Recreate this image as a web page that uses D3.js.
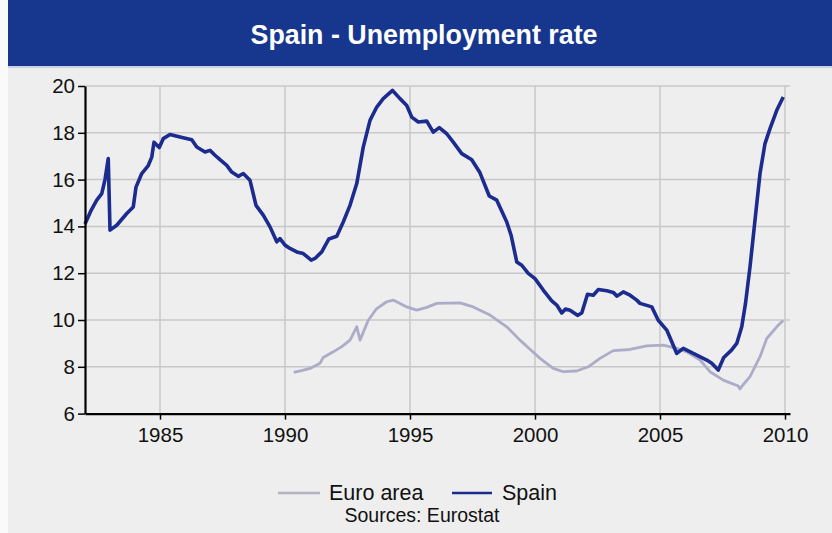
<!DOCTYPE html>
<html>
<head>
<meta charset="utf-8">
<script src="https://cdn.jsdelivr.net/npm/d3@7"></script>
<style>
  html, body { margin: 0; padding: 0; background: #eeeeee; }
  svg { display: block; font-family: "Liberation Sans", Arial, sans-serif; }
</style>
</head>
<body>
<svg id="chart" width="832" height="533"></svg>
<script>
// ---- Data ----
const title = "Spain - Unemployment rate";
const seriesNames = ["Euro area", "Spain"];
const sourceText = "Sources: Eurostat";

const spainDates = [1982.00,1982.25,1982.47,1982.67,1982.80,1982.93,1983.00,1983.27,1983.67,1983.93,
  1984.04,1984.27,1984.53,1984.67,1984.76,1984.97,1985.13,1985.40,1985.80,1986.27,1986.47,1986.80,
  1987.00,1987.20,1987.40,1987.67,1987.87,1988.13,1988.33,1988.60,1988.84,1989.13,1989.40,1989.67,
  1989.80,1990.00,1990.20,1990.47,1990.73,1991.05,1991.20,1991.47,1991.75,1992.07,1992.33,1992.60,
  1992.87,1993.13,1993.40,1993.67,1993.93,1994.30,1994.60,1994.87,1995.07,1995.33,1995.67,1995.93,
  1996.17,1996.47,1996.73,1997.07,1997.47,1997.80,1998.17,1998.47,1998.87,1999.05,1999.27,1999.47,
  1999.73,2000.00,2000.33,2000.67,2000.87,2001.07,2001.22,2001.40,2001.70,2001.87,2002.10,2002.33,
  2002.53,2002.87,2003.13,2003.28,2003.53,2003.80,2004.07,2004.20,2004.67,2004.93,2005.27,2005.67,
  2005.93,2006.33,2006.87,2007.07,2007.33,2007.55,2007.85,2008.07,2008.27,2008.42,2008.60,2008.80,
  2009.00,2009.20,2009.40,2009.67,2009.93];
const spainValues = [14.10,14.70,15.12,15.40,16.00,16.90,13.84,14.05,14.55,14.83,
  15.68,16.26,16.60,16.96,17.60,17.37,17.75,17.93,17.82,17.70,17.39,17.18,
  17.25,17.04,16.85,16.61,16.32,16.14,16.26,15.97,14.90,14.48,13.98,13.34,
  13.48,13.20,13.06,12.91,12.84,12.56,12.63,12.91,13.46,13.58,14.19,14.90,
  15.83,17.39,18.53,19.10,19.46,19.81,19.46,19.17,18.67,18.46,18.50,18.03,
  18.22,17.96,17.60,17.11,16.85,16.29,15.30,15.12,14.19,13.60,12.48,12.34,
  11.99,11.77,11.28,10.82,10.64,10.30,10.47,10.42,10.20,10.30,11.10,11.06,
  11.30,11.25,11.18,11.02,11.20,11.06,10.85,10.71,10.56,9.99,9.57,8.57,
  8.79,8.57,8.29,8.15,7.86,8.40,8.70,9.00,9.71,10.71,12.27,14.26,
  16.26,17.54,18.18,18.96,19.53];

const euroDates = [1990.35,1990.70,1991.00,1991.40,1991.53,1991.93,1992.27,1992.60,1992.87,1993.00,
  1993.33,1993.67,1994.07,1994.33,1994.87,1995.27,1995.67,1996.07,1997.00,1997.53,1998.20,1998.87,
  1999.40,1999.80,2000.20,2000.73,2001.13,2001.67,2002.13,2002.60,2003.13,2003.80,2004.47,2005.13,
  2005.67,2006.07,2006.60,2007.00,2007.53,2008.13,2008.20,2008.30,2008.60,2009.00,2009.27,2009.67,2009.93];
const euroValues = [7.76,7.85,7.93,8.15,8.40,8.64,8.86,9.14,9.71,9.14,
  9.99,10.49,10.78,10.85,10.56,10.42,10.54,10.71,10.73,10.56,10.21,9.71,
  9.14,8.75,8.36,7.93,7.79,7.82,8.00,8.36,8.69,8.74,8.89,8.93,
  8.79,8.64,8.29,7.79,7.43,7.18,7.05,7.20,7.58,8.43,9.21,9.71,9.98];

const yTicks = [6, 8, 10, 12, 14, 16, 18, 20];
const xTicks = [1985, 1990, 1995, 2000, 2005, 2010];

// ---- Drawing ----
const svg = d3.select("#chart");
const W = 832, H = 533;
const mLeft = 85, mRight = 790, mTop = 86, mBottom = 413.6;

svg.append("rect").attr("width", W).attr("height", H).attr("fill", "#eeeeee");
svg.append("rect").attr("x", 0).attr("y", 0).attr("width", 8).attr("height", H).attr("fill", "#fafafa");

// title bar
svg.append("rect").attr("x", 8).attr("y", 0).attr("width", W - 8).attr("height", 66).attr("fill", "#17378f");
svg.append("rect").attr("x", 8).attr("y", 66).attr("width", W - 8).attr("height", 2).attr("fill", "#c9d0e4");
svg.append("text").attr("x", 424).attr("y", 44).attr("text-anchor", "middle")
  .attr("fill", "#ffffff").attr("font-size", 26.8).attr("font-weight", "bold").text(title);

const x = d3.scaleLinear().domain([1982, 2010.2]).range([mLeft, mRight]);
const y = d3.scaleLinear().domain([6, 20]).range([mBottom, mTop]);

// gridlines
const grid = svg.append("g");
grid.selectAll("line.h").data(yTicks.filter(d => d > 6)).join("line")
  .attr("x1", mLeft).attr("x2", mRight).attr("y1", d => y(d)).attr("y2", d => y(d))
  .attr("stroke", "#c8c8c8").attr("stroke-width", 1.5);
grid.selectAll("line.v").data(xTicks).join("line")
  .attr("x1", d => x(d)).attr("x2", d => x(d)).attr("y1", y(20)).attr("y2", mBottom)
  .attr("stroke", "#c8c8c8").attr("stroke-width", 1.5);

// lines
const line = d3.line().x(d => x(d[0])).y(d => y(d[1])).curve(d3.curveLinear);
const euro = euroDates.map((d, i) => [d, euroValues[i]]);
const spain = spainDates.map((d, i) => [d, spainValues[i]]);

svg.append("path").datum(euro).attr("d", line).attr("fill", "none")
  .attr("stroke", "#acacc8").attr("stroke-width", 2.8).attr("stroke-linejoin", "round");
svg.append("path").datum(spain).attr("d", line).attr("fill", "none")
  .attr("stroke", "#1c2b8e").attr("stroke-width", 3.6).attr("stroke-linejoin", "round");

// axes
const yAxis = svg.append("g").attr("transform", `translate(${mLeft},0)`)
  .call(d3.axisLeft(y).tickValues(yTicks).tickSize(7).tickPadding(3).tickSizeOuter(0));
const xAxis = svg.append("g").attr("transform", `translate(0,${mBottom})`)
  .call(d3.axisBottom(x).tickValues(xTicks).tickFormat(d3.format("d")).tickSize(6).tickPadding(8).tickSizeOuter(0));
[yAxis, xAxis].forEach(g => {
  g.select(".domain").attr("stroke", "#000").attr("stroke-width", 2.2);
  g.selectAll(".tick line").attr("stroke", "#000").attr("stroke-width", 1.5);
  g.selectAll(".tick text").attr("fill", "#111").attr("font-size", 20.5)
    .attr("font-family", "'Liberation Sans', Arial, sans-serif");
});

// legend
const legend = svg.append("g");
const items = [
  {name: seriesNames[0], color: "#b4b4c4", x1: 278, x2: 320, tx: 329, w: 2.5},
  {name: seriesNames[1], color: "#1c2b8e", x1: 452, x2: 492, tx: 502, w: 2.5}
];
items.forEach(it => {
  legend.append("line").attr("x1", it.x1).attr("x2", it.x2).attr("y1", 493).attr("y2", 493)
    .attr("stroke", it.color).attr("stroke-width", it.w);
  legend.append("text").attr("x", it.tx).attr("y", 500).attr("font-size", 21.5).attr("fill", "#111").text(it.name);
});
svg.append("text").attr("x", 422).attr("y", 522).attr("text-anchor", "middle")
  .attr("font-size", 19.5).attr("fill", "#111").text(sourceText);
</script>
</body>
</html>
